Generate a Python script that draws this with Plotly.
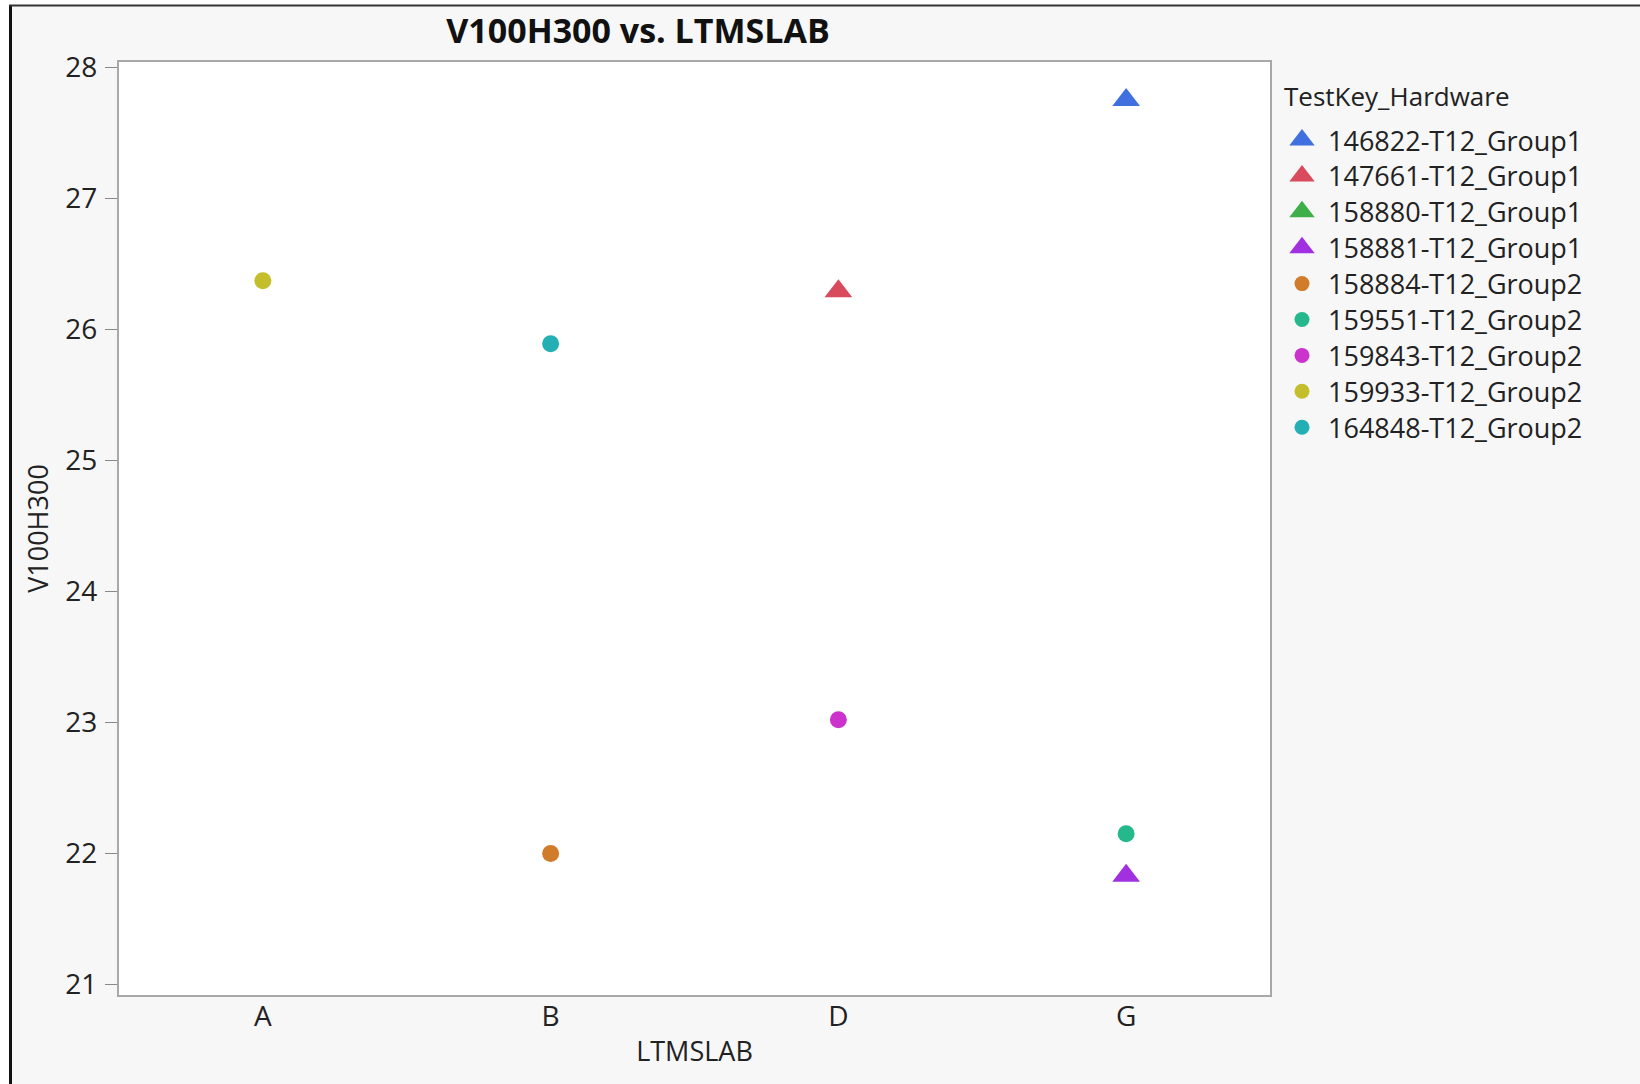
import plotly.graph_objects as go

# categories on the x axis
labs = ["A", "B", "D", "G"]

# one entry per TestKey_Hardware series
series_names = [
    "146822-T12_Group1", "147661-T12_Group1", "158880-T12_Group1",
    "158881-T12_Group1", "158884-T12_Group2", "159551-T12_Group2",
    "159843-T12_Group2", "159933-T12_Group2", "164848-T12_Group2",
]
series_lab = [["G"], ["D"], [], ["G"], ["B"], ["G"], ["D"], ["A"], ["B"]]
series_v100h300 = [[27.75], [26.29], [], [21.83], [22.0], [22.15], [23.02], [26.37], [25.89]]

series_colors = ["#4070E0", "#D84A5C", "#3DAE48", "#A030E0", "#D07C2A",
                 "#24B88C", "#CC33CC", "#C4BE2C", "#24AFB4"]
series_symbols = ["triangle-up"] * 4 + ["circle"] * 5

W, H = 1640, 1084
font = "Open Sans"
txt = "#222222"


def fx(x):
    return x / W


def fy(y):
    return 1 - y / H


# legend drawn as a small subplot to the right so the symbols can be full size
leg_top, leg_bot = 70, 450
row0, row_h = 140, 35.9
leg_left, mark_x = 1280, 1302

fig = go.Figure()
for i, (name, xs, ys, col, sym) in enumerate(zip(series_names, series_lab, series_v100h300,
                                                  series_colors, series_symbols)):
    tri = sym == "triangle-up"
    fig.add_trace(go.Scatter(
        x=xs, y=ys, mode="markers", name=name, showlegend=False,
        marker=dict(color=col, symbol=sym, size=24 if tri else 17, line=dict(width=0)),
    ))
    fig.add_trace(go.Scatter(
        x=[0], y=[i], mode="markers", showlegend=False, hoverinfo="skip",
        xaxis="x2", yaxis="y2",
        marker=dict(color=col, symbol=sym, size=22 if tri else 15, line=dict(width=0)),
    ))
    fig.add_annotation(x=24, y=i, xref="x2", yref="y2", text=name, showarrow=False,
                       xanchor="left", yanchor="middle",
                       font=dict(family=font, size=27, color=txt))

fig.add_annotation(x=leg_left + 2 - mark_x, y=(96 - row0) / row_h, xref="x2", yref="y2",
                   text="TestKey_Hardware", showarrow=False, xanchor="left", yanchor="middle",
                   font=dict(family=font, size=26, color=txt))

fig.update_layout(
    width=W, height=H,
    margin=dict(l=0, r=0, t=0, b=0, autoexpand=False),
    paper_bgcolor="#F7F7F7",
    plot_bgcolor="#F7F7F7",
    font=dict(family=font, size=26, color=txt),
    title=dict(text="<b>V100H300 vs. LTMSLAB</b>", x=fx(638), xanchor="center",
               y=fy(31), yanchor="middle",
               font=dict(family=font, size=34, color="#111111")),
    showlegend=False,
    xaxis=dict(
        domain=[fx(119), fx(1270)],
        type="category", categoryorder="array", categoryarray=labs,
        range=[-0.5, 3.5], showgrid=False, zeroline=False,
        showline=True, mirror=True, linecolor="#A8A8A8", linewidth=2,
        ticks="", tickfont=dict(size=28), ticklabelstandoff=-5,
        title=dict(text="LTMSLAB", standoff=10, font=dict(size=27)),
    ),
    yaxis=dict(
        domain=[fy(995), fy(62)],
        range=[20.92, 28.04], dtick=1, showgrid=False, zeroline=False,
        showline=True, mirror=True, linecolor="#A8A8A8", linewidth=2,
        ticks="outside", ticklen=12, tickcolor="#888888", tickwidth=1,
        tickfont=dict(size=28), ticklabelstandoff=2,
        title=dict(text="V100H300", standoff=9, font=dict(size=27)),
    ),
    xaxis2=dict(domain=[fx(leg_left), 1], range=[leg_left - mark_x, W - mark_x],
                visible=False, anchor="y2"),
    yaxis2=dict(domain=[fy(leg_bot), fy(leg_top)],
                range=[(leg_bot - row0) / row_h, (leg_top - row0) / row_h],
                visible=False, anchor="x2"),
)

# white plotting area
fig.add_shape(type="rect", xref="x domain", yref="y domain", x0=0, x1=1, y0=0, y1=1,
              fillcolor="white", line=dict(width=0), layer="below")

# window frame: white strips outside, dark border lines
fig.add_shape(type="rect", xref="paper", yref="paper", x0=0, x1=fx(9), y0=0, y1=1,
              fillcolor="white", line=dict(width=0), layer="above")
fig.add_shape(type="rect", xref="paper", yref="paper", x0=0, x1=1, y0=fy(5), y1=1,
              fillcolor="white", line=dict(width=0), layer="above")
fig.add_shape(type="line", xref="paper", yref="paper", x0=fx(10.5), x1=fx(10.5), y0=0, y1=fy(5),
              line=dict(color="#111111", width=3))
fig.add_shape(type="line", xref="paper", yref="paper", x0=fx(9), x1=1, y0=fy(5.5), y1=fy(5.5),
              line=dict(color="#333333", width=2))

fig.write_html("out.html", config={"displayModeBar": False},
               post_script="document.body.style.margin='0';")
